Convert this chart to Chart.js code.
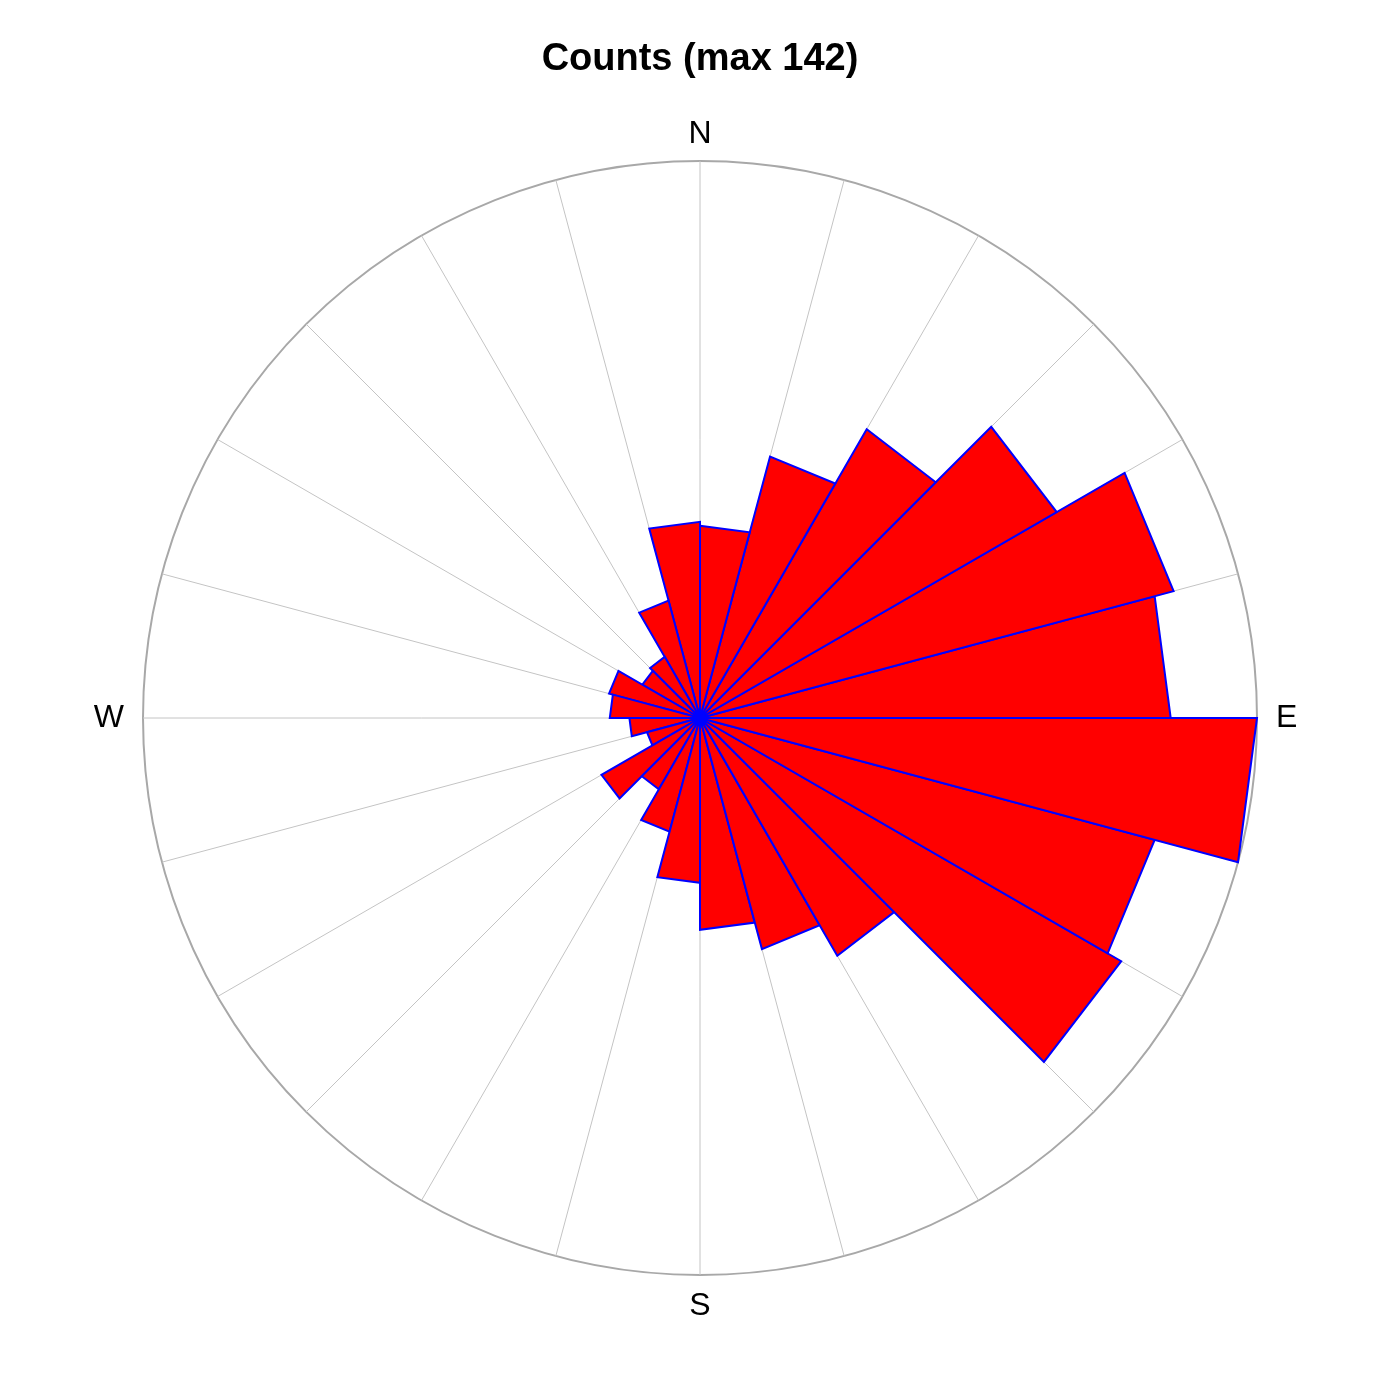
<!DOCTYPE html>
<html>
<head>
<meta charset="utf-8">
<script src="https://cdn.jsdelivr.net/npm/chart.js@4"></script>
<style>
  html, body { margin: 0; padding: 0; background: #fff; }
</style>
</head>
<body>
<canvas id="roseChart" width="1400" height="1400"></canvas>
<script>
// 24 sectors of 15 degrees, clockwise from north
var directions = ['N', '', '', '', '', '', 'E', '', '', '', '', '',
                  'S', '', '', '', '', '', 'W', '', '', '', '', ''];
var counts = [49, 69, 85, 105, 125, 120, 142, 120, 124, 70, 61, 54,
              42, 30, 21, 29, 14, 18, 23, 24, 17, 18, 31, 50];
var maxCount = 142;

// one wedge per sector: the sector count at its two edges, zero (centre) elsewhere
var wedges = counts.map(function (c, k) {
    return {
        data: directions.map(function (d, i) {
            return (i === k || i === (k + 1) % directions.length) ? c : 0;
        }),
        fill: 'origin',
        backgroundColor: '#ff0000',
        borderColor: '#0000ff',
        borderWidth: 2,
        borderJoinStyle: 'miter',
        pointRadius: 0,
        tension: 0
    };
});

// letters outside the circle: [gap from circle, align, baseline, dy]
var labelStyle = {
    N: [18, 'center', 'alphabetic', 0],
    E: [19, 'left', 'alphabetic', 9],
    S: [40, 'center', 'alphabetic', 0],
    W: [19, 'right', 'alphabetic', 9]
};

var compassLabels = {
    id: 'compassLabels',
    afterDraw: function (chart) {
        var scale = chart.scales.r;
        var ctx = chart.ctx;
        ctx.save();
        ctx.font = '32px "Liberation Sans", Arial, sans-serif';
        ctx.fillStyle = '#000';
        directions.forEach(function (label, i) {
            if (!label) return;
            var s = labelStyle[label];
            var pos = scale.getPointPosition(i, scale.drawingArea + s[0]);
            ctx.textAlign = s[1];
            ctx.textBaseline = s[2];
            ctx.fillText(label, pos.x, pos.y + s[3]);
        });
        ctx.restore();
    }
};

var ctx = document.getElementById('roseChart').getContext('2d');
var roseChart = new Chart(ctx, {
    type: 'radar',
    data: {
        labels: directions,
        datasets: wedges
    },
    options: {
        responsive: false,
        animation: false,
        layout: {
            padding: { left: 143, right: 143, top: 0, bottom: 124 }
        },
        plugins: {
            legend: { display: false },
            tooltip: { enabled: false },
            title: {
                display: true,
                text: 'Counts (max ' + maxCount + ')',
                color: '#000',
                font: { family: '"Liberation Sans", Arial, sans-serif', size: 38, weight: 'bold' },
                padding: { top: 37, bottom: 78 }
            }
        },
        scales: {
            r: {
                min: 0,
                max: maxCount,
                startAngle: 0,
                ticks: { display: false, stepSize: maxCount },
                grid: { circular: true, color: '#a8a8a8', lineWidth: 2 },
                angleLines: { display: true, color: '#c4c4c4', lineWidth: 1 },
                pointLabels: { display: false }
            }
        }
    },
    plugins: [compassLabels]
});
</script>
</body>
</html>
